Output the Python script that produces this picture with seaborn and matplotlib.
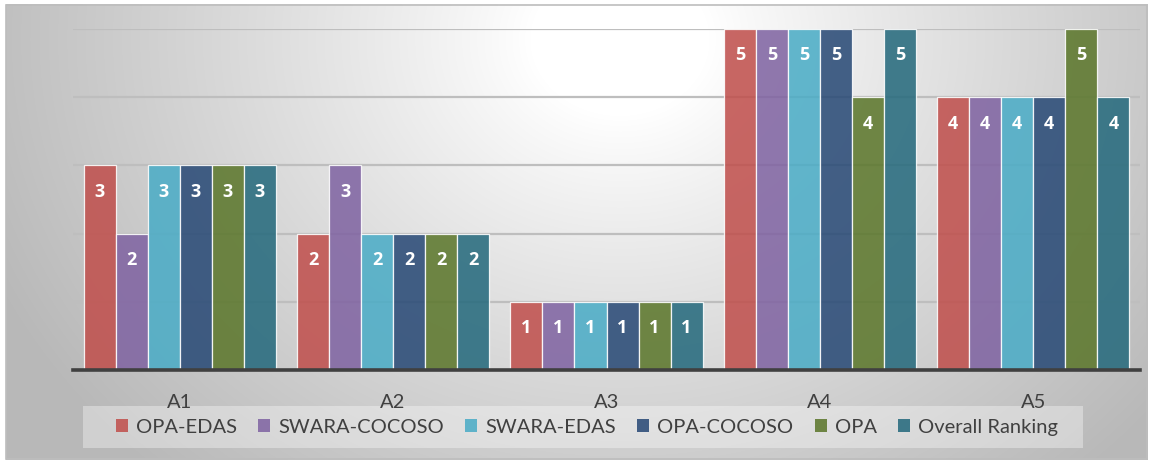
import numpy as np
import pandas as pd
import matplotlib
matplotlib.use("Agg")
import matplotlib.pyplot as plt
from matplotlib.patches import Rectangle, Patch
import seaborn as sns

# Ranking of alternatives under each method
alternatives = ["A1", "A2", "A3", "A4", "A5"]
methods = ["OPA-EDAS", "SWARA-COCOSO", "SWARA-EDAS", "OPA-COCOSO", "OPA", "Overall Ranking"]
opa_edas = [3, 2, 1, 5, 4]
swara_cocoso = [2, 3, 1, 5, 4]
swara_edas = [3, 2, 1, 5, 4]
opa_cocoso = [3, 2, 1, 5, 4]
opa = [3, 2, 1, 4, 5]
overall = [3, 2, 1, 5, 4]

colors = ["#C0504D", "#8064A2", "#4BACC6", "#294A76", "#5C772C", "#266A7D"]

series = [opa_edas, swara_cocoso, swara_edas, opa_cocoso, opa, overall]
df = pd.DataFrame(
    [(a, m, v) for m, vals in zip(methods, series) for a, v in zip(alternatives, vals)],
    columns=["Alternative", "Method", "Rank"],
)

sns.set_theme(style="white")
plt.rcParams["font.family"] = ["Lato", "DejaVu Sans"]

W, H = 1149, 461
fig = plt.figure(figsize=(W / 100, H / 100), dpi=100)

# Background: soft radial grey gradient inside a thin frame
bg = fig.add_axes([0, 0, 1, 1], zorder=0)
yy, xx = np.mgrid[0:H, 0:W]
d = np.hypot((xx - 620) / 1.0, (yy - 40) / 0.85)
t = np.clip((d - 90) / 500, 0, 1.2)
val = 255 - 60 * t ** 0.9
img = np.clip(val, 180, 255) / 255.0
inside = (xx >= 6) & (xx <= 1147) & (yy >= 5) & (yy <= 459)
img = np.where(inside, img, 1.0)
bg.imshow(np.dstack([img, img, img]), extent=(0, W, H, 0), aspect="auto",
          interpolation="bilinear")
bg.add_patch(Rectangle((6, 5), 1141, 454, fill=False, edgecolor="#BDBDBD", lw=1.2))
# Legend panel
bg.add_patch(Rectangle((83, 406), 1000, 42, facecolor="white", alpha=0.35,
                       edgecolor="none"))
bg.set_xlim(0, W)
bg.set_ylim(H, 0)
bg.axis("off")

ax = fig.add_axes([73 / W, 91 / H, (1140 - 73) / W, (370 - 29) / H], zorder=1)
ax.patch.set_alpha(0)

sns.barplot(data=df, x="Alternative", y="Rank", hue="Method", hue_order=methods,
            order=alternatives, palette=colors, saturation=1, width=0.9, alpha=0.87,
            edgecolor="white", linewidth=0.9, legend=False, ax=ax, zorder=2)

ax.set_ylim(0, 5)
ax.set_xlim(-0.5, 4.5)
ax.set_yticks([1, 2, 3, 4, 5])
ax.yaxis.grid(True, color="#BEBEBE", lw=1.6, zorder=0)
ax.set_axisbelow(True)
ax.set_yticklabels([])
ax.tick_params(axis="y", length=0)
ax.tick_params(axis="x", length=0, pad=17.5, labelsize=14.5, labelcolor="#404040")
ax.set_xlabel("")
ax.set_ylabel("")
for s in ["top", "right", "left"]:
    ax.spines[s].set_visible(False)
ax.spines["bottom"].set_color("#404040")
ax.spines["bottom"].set_linewidth(2.6)
ax.spines["bottom"].set_zorder(5)

for cont in ax.containers:
    for bar in cont:
        h = bar.get_height()
        ax.annotate(f"{h:.0f}", (bar.get_x() + bar.get_width() / 2, h),
                    xytext=(0, -19), textcoords="offset points",
                    ha="center", va="center", color="white",
                    fontsize=13, fontweight="bold", family="Open Sans", zorder=6)

handles = [Patch(facecolor=c, alpha=0.87, edgecolor="none") for c in colors]
fig.legend(handles, methods, loc="center", bbox_to_anchor=(587 / W, 1 - 427 / H),
           ncol=6, frameon=False, fontsize=14.5, labelcolor="#404040",
           handlelength=0.6, handleheight=0.6, handletextpad=0.4,
           columnspacing=1.05)

fig.savefig("out.png", dpi=100)
